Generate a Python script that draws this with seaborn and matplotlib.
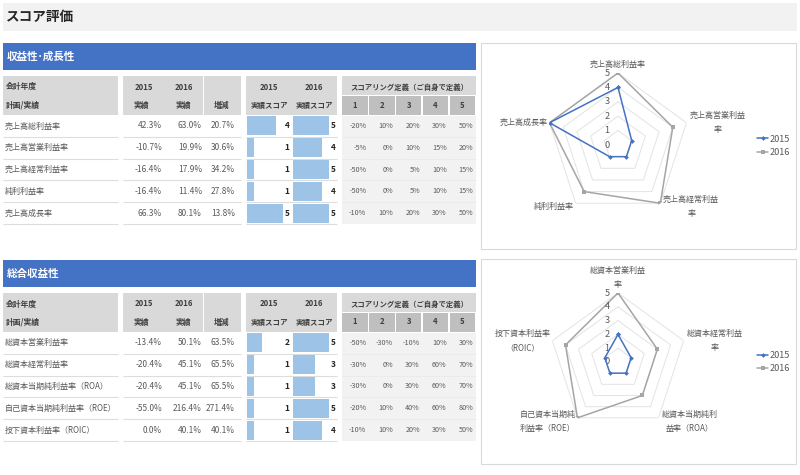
import numpy as np
import pandas as pd
import matplotlib
matplotlib.use("Agg")
import matplotlib.pyplot as plt
from matplotlib.patches import Rectangle
from matplotlib.lines import Line2D
import seaborn as sns

# ---------------- data ----------------
page_title = "スコア評価"
section_titles = ["収益性･成長性", "総合収益性"]
years = ["2015", "2016"]
score_levels = [1, 2, 3, 4, 5]

sec1_metrics = ["売上高総利益率", "売上高営業利益率", "売上高経常利益率", "純利利益率", "売上高成長率"]
sec1_actual_2015 = [42.3, -10.7, -16.4, -16.4, 66.3]
sec1_actual_2016 = [63.0, 19.9, 17.9, 11.4, 80.1]
sec1_change = [20.7, 30.6, 34.2, 27.8, 13.8]
sec1_score_2015 = [4, 1, 1, 1, 5]
sec1_score_2016 = [5, 4, 5, 4, 5]
sec1_thresholds = [[-20, 10, 20, 30, 50], [-5, 0, 10, 15, 20], [-50, 0, 5, 10, 15],
                   [-50, 0, 5, 10, 15], [-10, 10, 20, 30, 50]]
sec1_radar_labels = ["売上高総利益率", "売上高営業利益\n率", "売上高経常利益\n率", "純利利益率", "売上高成長率"]

sec2_metrics = ["総資本営業利益率", "総資本経常利益率", "総資本当期純利益率（ROA）",
                "自己資本当期純利益率（ROE）", "投下資本利益率（ROIC）"]
sec2_actual_2015 = [-13.4, -20.4, -20.4, -55.0, 0.0]
sec2_actual_2016 = [50.1, 45.1, 45.1, 216.4, 40.1]
sec2_change = [63.5, 65.5, 65.5, 271.4, 40.1]
sec2_score_2015 = [2, 1, 1, 1, 1]
sec2_score_2016 = [5, 3, 3, 5, 4]
sec2_thresholds = [[-50, -30, -10, 10, 30], [-30, 0, 30, 60, 70], [-30, 0, 30, 60, 70],
                   [-20, 10, 40, 60, 80], [-10, 10, 20, 30, 50]]
sec2_radar_labels = ["総資本営業利益\n率", "総資本経常利益\n率", "総資本当期純利\n益率（ROA）",
                     "自己資本当期純\n利益率（ROE）", "投下資本利益率\n（ROIC）"]

hdr_fiscal = "会計年度"
hdr_plan = "計画/実績"
hdr_actual = "実績"
hdr_change = "増減"
hdr_score = "実績スコア"
hdr_def = "スコアリング定義（ご自身で定義）"

# ---------------- style ----------------
sns.set_theme(style="white")
plt.rcParams["font.family"] = ["Noto Sans CJK JP", "DejaVu Sans"]

BLUE = "#4472C4"
GRAY16 = "#A5A5A5"
BAR = "#9DC3E6"
HDR = "#D9D9D9"
DARK = "#BFBFBF"
TXT = "#595959"
HTXT = "#404040"
W, H = 800, 475
RH = 21.8

fig = plt.figure(figsize=(8, 4.75), dpi=100)
fig.patch.set_facecolor("white")
bg = fig.add_axes([0, 0, 1, 1])
bg.set_xlim(0, W)
bg.set_ylim(H, 0)
bg.axis("off")


def px_axes(x0, y0, x1, y1, **kw):
    return fig.add_axes([x0 / W, 1 - y1 / H, (x1 - x0) / W, (y1 - y0) / H], **kw)


def rect(x0, y0, x1, y1, fc, ec="none", lw=0, z=1):
    bg.add_patch(Rectangle((x0, y0), x1 - x0, y1 - y0, facecolor=fc,
                           edgecolor=ec, linewidth=lw, zorder=z))


def txt(x, y, s, ha="left", size=5.8, color=TXT, weight="normal", **kw):
    bg.text(x, y, s, ha=ha, va="center", fontsize=size, color=color,
            fontweight=weight, zorder=5, **kw)


# page title
rect(3, 3, 797, 31, "#F2F2F2")
txt(6, 17, page_title, size=9.8, color="#262626", weight="bold")


def pct(v):
    return f"{v:.1f}%"


def draw_section(y0, title, metrics, a15, a16, chg, s15, s16, thr):
    rect(3, y0, 476, y0 + 27, BLUE)
    txt(7, y0 + 14, title, size=7.6, color="white", weight="bold")
    top, mid, bot = y0 + 33, y0 + 53, y0 + 72
    for a, b in [(3, 118), (123, 203), (204, 241), (246, 337)]:
        rect(a, top, b, bot, HDR)
    rect(342, top, 476, mid - 1, HDR)
    for k in range(5):
        x = 342.3 + 26.8 * k
        rect(x, mid, min(x + 25.5, 476), bot, DARK)
        txt(x + 12.8, y0 + 62, str(score_levels[k]), ha="center", size=5.6, color=HTXT, weight="bold")
    r1, r2 = y0 + 44, y0 + 62
    txt(6, r1, hdr_fiscal, size=5.6, color=HTXT, weight="bold")
    txt(6, r2, hdr_plan, size=5.6, color=HTXT, weight="bold")
    txt(144, r1, years[0], ha="center", size=5.6, color=HTXT, weight="bold")
    txt(184, r1, years[1], ha="center", size=5.6, color=HTXT, weight="bold")
    txt(141, r2, hdr_actual, ha="center", size=5.6, color=HTXT, weight="bold")
    txt(183, r2, hdr_actual, ha="center", size=5.6, color=HTXT, weight="bold")
    txt(222, r2, hdr_change, ha="center", size=5.6, color=HTXT, weight="bold")
    txt(269, r1, years[0], ha="center", size=5.6, color=HTXT, weight="bold")
    txt(314, r1, years[1], ha="center", size=5.6, color=HTXT, weight="bold")
    txt(269, r2, hdr_score, ha="center", size=5.4, color=HTXT, weight="bold")
    txt(314, r2, hdr_score, ha="center", size=5.4, color=HTXT, weight="bold")
    txt(409, r1, hdr_def, ha="center", size=5.3, color=HTXT, weight="bold")

    # data area
    rect(342, bot + 1, 476, bot + 5 * RH, "#F2F2F2")
    for i in range(5):
        yb = bot + (i + 1) * RH
        for a, b in [(3, 118), (123, 241), (246, 337)]:
            bg.hlines(yb, a, b, color="#DDDDDD", lw=0.8, zorder=3)
        if i < 4:
            bg.hlines(yb, 342, 476, color="#E2E2E2", lw=0.6, ls=(0, (1, 1)), zorder=3)
        yc = bot + (i + 0.5) * RH
        txt(5, yc, metrics[i], size=5.8)
        txt(162, yc, pct(a15[i]), ha="right", size=6.0)
        txt(202, yc, pct(a16[i]), ha="right", size=6.0)
        txt(235, yc, pct(chg[i]), ha="right", size=6.0)
        txt(289.5, yc, str(s15[i]), ha="right", size=6.0, color="#262626", weight="bold")
        txt(335.5, yc, str(s16[i]), ha="right", size=6.0, color="#262626", weight="bold")
        for k in range(5):
            x = 342.3 + 26.8 * k
            txt(min(x + 25.5, 476) - 1.5, yc, f"{thr[i][k]}%", ha="right", size=5.2, color=TXT)

    # score data bars
    for (xa, xb), scores in [((247, 283.4), s15), ((292.8, 329.2), s16)]:
        ax = px_axes(xa, bot, xb, bot + 5 * RH)
        df = pd.DataFrame({"metric": metrics, "score": scores})
        sns.barplot(data=df, x="score", y="metric", orient="h", color=BAR,
                    saturation=1, width=0.88, errorbar=None, linewidth=0, ax=ax)
        ax.set_xlim(0, 5)
        ax.axis("off")


draw_section(43, section_titles[0], sec1_metrics, sec1_actual_2015, sec1_actual_2016,
             sec1_change, sec1_score_2015, sec1_score_2016, sec1_thresholds)
draw_section(260, section_titles[1], sec2_metrics, sec2_actual_2015, sec2_actual_2016,
             sec2_change, sec2_score_2015, sec2_score_2016, sec2_thresholds)

# radar panels
rect(481, 43, 796, 249, "white", ec="#D9D9D9", lw=0.8)
rect(481, 259, 796, 464, "white", ec="#D9D9D9", lw=0.8)

label_offsets = [((0, 3), "center", "bottom"), ((2, 0), "left", "center"),
                 ((2, -2.5), "left", "center"), ((-1, -2.5), "right", "center"),
                 ((-1, 0), "right", "center")]


def draw_radar(cx, cy, R, labels, v15, v16, legend_y):
    ax = px_axes(cx - R, cy - R, cx + R, cy + R, projection="polar")
    ax.set_facecolor("none")
    ax.set_theta_offset(np.pi / 2)
    ax.set_theta_direction(-1)
    n = len(labels)
    ang = np.arange(n) * 2 * np.pi / n
    angc = np.append(ang, 2 * np.pi)
    for lev in score_levels:
        ax.plot(angc, [lev] * (n + 1), color="#E3E3E3", lw=0.7, zorder=1)
    sns.lineplot(x=angc, y=np.append(v16, v16[0]), sort=False, estimator=None, ax=ax,
                 color=GRAY16, lw=1.1, marker="s", markersize=2.2, markeredgewidth=0, zorder=3)
    sns.lineplot(x=angc, y=np.append(v15, v15[0]), sort=False, estimator=None, ax=ax,
                 color=BLUE, lw=1.1, marker="D", markersize=2.4, markeredgewidth=0, zorder=4)
    ax.set_ylim(0, 5)
    ax.set_xticks([])
    ax.set_yticks([])
    ax.grid(False)
    ax.spines["polar"].set_visible(False)
    ax.set_xlabel("")
    ax.set_ylabel("")
    for v in [0] + score_levels:
        ax.annotate(str(v), xy=(0, v), xytext=(-6, 0), textcoords="offset points",
                    ha="right", va="center", fontsize=6.6, color=TXT, annotation_clip=False)
    for i, lab in enumerate(labels):
        (dx, dy), ha, va = label_offsets[i]
        ax.annotate(lab, xy=(ang[i], 5), xytext=(dx, dy), textcoords="offset points",
                    ha=ha, va=va, fontsize=5.8, color=TXT, multialignment="center",
                    linespacing=1.75, annotation_clip=False)
    handles = [Line2D([], [], color=BLUE, lw=1.1, marker="D", markersize=2.4, markeredgewidth=0),
               Line2D([], [], color=GRAY16, lw=1.1, marker="s", markersize=2.2, markeredgewidth=0)]
    ax.legend(handles, years, loc="center left", bbox_to_anchor=(757 / W, 1 - legend_y / H),
              bbox_transform=fig.transFigure, frameon=False, fontsize=6.6, handlelength=1.2,
              handletextpad=0.2, labelspacing=0.5, borderpad=0, borderaxespad=0,
              labelcolor=TXT)


draw_radar(618, 145, 72, sec1_radar_labels, sec1_score_2015, sec1_score_2016, 146)
draw_radar(618, 362, 69, sec2_radar_labels, sec2_score_2015, sec2_score_2016, 362)

fig.savefig("out.png", dpi=100)
